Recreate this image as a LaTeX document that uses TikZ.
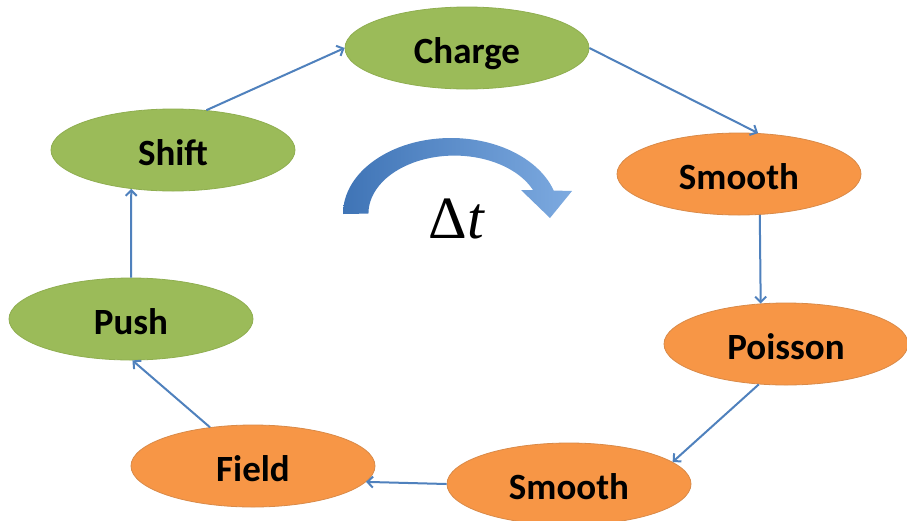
\documentclass[tikz,border=0pt]{standalone}
\usepackage{fontspec}
\setmainfont{Carlito}
\newfontfamily\tms{Liberation Serif}
\usetikzlibrary{arrows.meta,shapes.geometric}
\definecolor{gfill}{HTML}{9BBB59}
\definecolor{gline}{HTML}{8FAE50}
\definecolor{ofill}{HTML}{F79646}
\definecolor{oline}{HTML}{D98A48}
\definecolor{acol}{HTML}{4F81BD}
\definecolor{arcdark}{HTML}{3F74B6}
\definecolor{arclight}{HTML}{7DAAE0}
\begin{document}
\begin{tikzpicture}[x=1pt,y=-1pt,
  stage/.style={ellipse, minimum width=244pt, minimum height=82pt, inner sep=0pt,
    text height=30pt, text depth=0pt, font=\bfseries\fontsize{37}{37}\selectfont},
  gstage/.style={stage, fill=gfill, draw=gline, line width=0.8pt},
  ostage/.style={stage, fill=ofill, draw=oline, line width=0.8pt},
  arr/.style={draw=acol, line width=2pt, -{Straight Barb[length=5.5pt,width=11pt]}}]
\useasboundingbox[fill=white] (0,0) rectangle (907,520);

\node[gstage] (charge) at (467,48) {Charge};
\node[gstage] (shift) at (173,150) {Shift};
\node[ostage] (smootha) at (739,174) {Smooth};
\node[ostage] (poisson) at (786,344) {Poisson};
\node[ostage] (smoothb) at (569,484) {Smooth};
\node[ostage] (field) at (253,466) {Field};
\node[gstage] (push) at (131,319) {Push};

\draw[arr] (shift.50) -- (charge.180);
\draw[arr] (charge.0) -- (smootha.65);
\draw[arr] (smootha.-63) -- (poisson.122);
\draw[arr] (poisson.-124.6) -- (smoothb.12.5);
\draw[arr] (smoothb.180) -- (field.-8.4);
\draw[arr] (field.138) -- (push.-88);
\draw[arr] (push.90) -- (shift.-137.5);

% curved time arrow
\shade[left color=arcdark, right color=arclight]
  (343,214) arc[start angle=180, end angle=342, x radius=108, y radius=76]
  -- (572,191) -- (550,218) -- (521,190) -- (533,190)
  arc[start angle=336, end angle=180, x radius=86, y radius=58] -- cycle;

\node[anchor=base, inner sep=0pt, font=\tms\fontsize{60}{60}\selectfont] (dt) at (457,238) {Δ\textit{t}};
\end{tikzpicture}
\end{document}
